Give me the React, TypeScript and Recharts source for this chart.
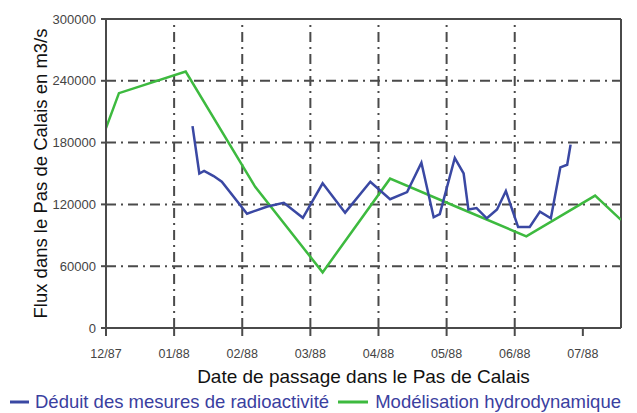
import {
    LineChart, Line, XAxis, YAxis, ReferenceLine, Legend
} from 'recharts';

// x positions are in months counted from 12/87
const monthLabels = ['12/87', '01/88', '02/88', '03/88', '04/88', '05/88', '06/88', '07/88'];
const monthTicks = [0, 1, 2, 3, 4, 5, 6, 7];
const gridMonths = [1, 2, 3, 4, 5, 6];
const fluxTicks = [0, 60000, 120000, 180000, 240000, 300000];
const gridFlux = [60000, 120000, 180000, 240000];
const xEnd = 7.56;

// Déduit des mesures de radioactivité
const mesureMonths = [1.27, 1.37, 1.44, 1.58, 1.70, 2.07, 2.37, 2.61, 2.89, 3.18, 3.51, 3.88, 4.17, 4.42, 4.63, 4.81, 4.90, 5.12, 5.25, 5.32, 5.44, 5.59, 5.74, 5.87, 6.05, 6.22, 6.37, 6.53, 6.67, 6.77, 6.82];
const mesureFlux = [196000, 150000, 152500, 147500, 142000, 111000, 118000, 121500, 107000, 140500, 112000, 142000, 125000, 132000, 160500, 107500, 110500, 165000, 150000, 115000, 116500, 106500, 115000, 133000, 98000, 98000, 113000, 106500, 156000, 158500, 178000];

// Modélisation hydrodynamique
const modeleMonths = [0, 0.19, 1.17, 2.19, 3.18, 4.17, 5.17, 6.17, 7.18, 7.56];
const modeleFlux = [194000, 228000, 249000, 137000, 54000, 145000, 117000, 89000, 128500, 105000];

const mesureData = mesureMonths.map((m, i) => ({ m, flux: mesureFlux[i] }));
const modeleData = modeleMonths.map((m, i) => ({ m, flux: modeleFlux[i] }));

const BLUE = '#3a48a3';
const GREEN = '#3dba3f';
const AXIS = '#4a4a4a';
const FONT = '"Liberation Sans", Arial, sans-serif';

const renderLegend = () => (
    <div style={{ display: 'flex', alignItems: 'center', height: 20, marginTop: 3, fontFamily: FONT, fontSize: 18.5, lineHeight: '20px', color: '#3a40a0', whiteSpace: 'nowrap', paddingLeft: 10 }}>
        <svg width={24} height={6} style={{ marginRight: 6 }}><line x1={0} y1={3} x2={24} y2={3} stroke={BLUE} strokeWidth={3} /></svg>
        <span style={{ marginRight: 9 }}>Déduit des mesures de radioactivité</span>
        <svg width={38} height={6} style={{ marginRight: 7 }}><line x1={0} y1={3} x2={38} y2={3} stroke={GREEN} strokeWidth={3} /></svg>
        <span>Modélisation hydrodynamique</span>
    </div>
);

export default function App() {
    return (
        <div style={{ position: 'absolute', left: 0, top: 0, width: 637, height: 413, background: '#fff', overflow: 'hidden' }}>
            <LineChart width={637} height={413} margin={{ top: 19, right: 16, left: 0, bottom: 0 }}>
                {gridFlux.map(v => (
                    <ReferenceLine key={'h' + v} y={v} stroke={AXIS} strokeWidth={2} strokeDasharray="10 5 2 5" />
                ))}
                {gridMonths.map(v => (
                    <ReferenceLine key={'v' + v} x={v} stroke={AXIS} strokeWidth={2} strokeDasharray="10 5 2 5" />
                ))}
                <ReferenceLine y={300000} stroke={AXIS} strokeWidth={2} />
                <ReferenceLine x={xEnd} stroke={AXIS} strokeWidth={2} />
                <XAxis
                    type="number" dataKey="m" domain={[0, xEnd]} ticks={monthTicks} allowDataOverflow
                    tickFormatter={(v: number) => monthLabels[v]}
                    height={61} tickSize={8} tickMargin={13}
                    stroke={AXIS} strokeWidth={2}
                    tick={{ fill: '#444', fontSize: 12.5, fontFamily: FONT }}
                    label={{ value: 'Date de passage dans le Pas de Calais', position: 'insideBottom', offset: 6, fill: '#111', fontSize: 19, fontFamily: FONT }}
                />
                <YAxis
                    type="number" domain={[0, 300000]} ticks={fluxTicks} width={106}
                    tickSize={5} tickMargin={5} stroke={AXIS} strokeWidth={2}
                    tick={{ fill: '#444', fontSize: 13, fontFamily: FONT }}
                    label={{ value: 'Flux dans le Pas de Calais en m3/s', angle: -90, position: 'insideLeft', offset: 40, fill: '#111', fontSize: 18.5, fontFamily: FONT, style: { textAnchor: 'middle' } }}
                />
                <Legend verticalAlign="bottom" height={24} content={renderLegend} />
                <Line data={modeleData} dataKey="flux" type="linear" stroke={GREEN} strokeWidth={2.5} dot={false} isAnimationActive={false} />
                <Line data={mesureData} dataKey="flux" type="linear" stroke={BLUE} strokeWidth={2.5} dot={false} isAnimationActive={false} />
            </LineChart>
        </div>
    );
}
